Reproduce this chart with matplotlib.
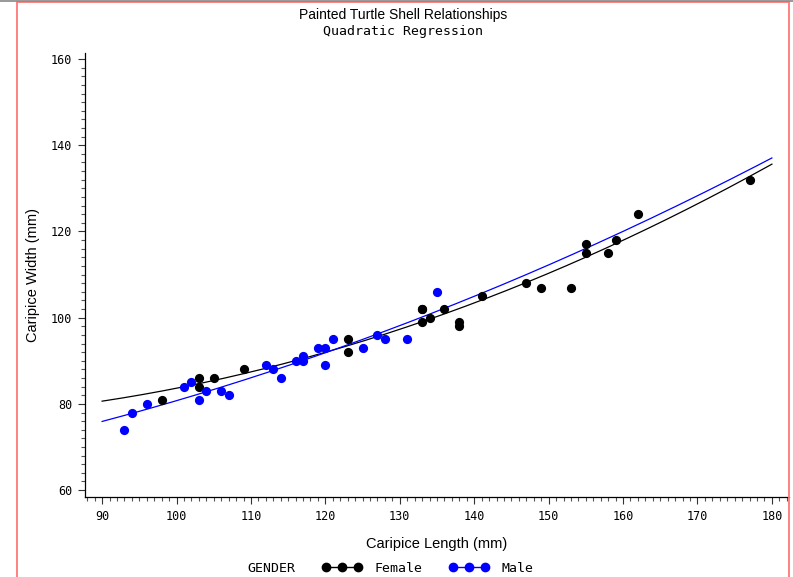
import numpy as np
import matplotlib
matplotlib.use("Agg")
import matplotlib.pyplot as plt
from matplotlib.lines import Line2D
from matplotlib.patches import Rectangle
from matplotlib.ticker import MultipleLocator

female_length = [98, 103, 103, 105, 109, 123, 123, 133, 133, 133, 134, 136,
                 138, 138, 141, 147, 149, 153, 155, 155, 158, 159, 162, 177]
female_width = [81, 84, 86, 86, 88, 92, 95, 99, 102, 102, 100, 102,
                98, 99, 105, 108, 107, 107, 115, 117, 115, 118, 124, 132]
male_length = [93, 94, 96, 101, 102, 103, 104, 106, 107, 112, 113, 114,
               116, 117, 117, 119, 120, 120, 121, 125, 127, 128, 131, 135]
male_width = [74, 78, 80, 84, 85, 81, 83, 83, 82, 89, 88, 86,
              90, 90, 91, 93, 89, 93, 95, 93, 96, 95, 95, 106]

x_ticks = [90, 100, 110, 120, 130, 140, 150, 160, 170, 180]
y_ticks = [60, 80, 100, 120, 140, 160]

mono = "DejaVu Sans Mono"

fig = plt.figure(figsize=(7.93, 5.77), dpi=100)
ax = fig.add_axes([85 / 793, 1 - 497 / 577, (789 - 85) / 793, (497 - 53) / 577])

xs = np.linspace(90, 180, 200)
for lx, wy, col in [(female_length, female_width, "black"),
                    (male_length, male_width, "#0000ff")]:
    coef = np.polyfit(lx, wy, 2)
    ax.plot(xs, np.polyval(coef, xs), color=col, lw=0.9, zorder=2)
    ax.scatter(lx, wy, s=44, color=col, zorder=3, linewidths=0)

ax.set_xlim(87.7, 182.3)
ax.set_ylim(58.4, 161.4)
ax.set_xticks(x_ticks)
ax.set_yticks(y_ticks)
ax.xaxis.set_minor_locator(MultipleLocator(1))
ax.yaxis.set_minor_locator(MultipleLocator(2))
for s in ["top", "right"]:
    ax.spines[s].set_visible(False)
for s in ["left", "bottom"]:
    ax.spines[s].set_linewidth(0.9)
ax.tick_params(which="major", length=5, width=0.8, colors="#333333", labelcolor="black", pad=4)
ax.tick_params(which="minor", length=3, width=0.8, colors="#555555")
for lab in ax.get_xticklabels() + ax.get_yticklabels():
    lab.set_fontfamily(mono)
    lab.set_fontsize(8.5)

ax.set_xlabel("Caripice Length (mm)", fontsize=10.5, fontfamily="Liberation Sans")
ax.set_ylabel("Caripice Width (mm)", fontsize=10.5, fontfamily="Liberation Sans")
ax.xaxis.set_label_coords(0.5, -0.09)
ax.yaxis.set_label_coords(-0.064, 0.5)

fig.text(403 / 793, 1 - 15 / 577, "Painted Turtle Shell Relationships",
         ha="center", va="center", fontsize=10, fontfamily="Liberation Sans")
fig.text(403 / 793, 1 - 32 / 577, "Quadratic Regression",
         ha="center", va="center", fontsize=9.5, fontfamily=mono)

# legend along the bottom
fig.text(247 / 793, 1 - 568 / 577, "GENDER", ha="left", va="center",
         fontsize=9.5, fontfamily=mono)
handles = [Line2D([0], [0], color="black", marker="o", markersize=6, lw=1),
           Line2D([0], [0], color="#0000ff", marker="o", markersize=6, lw=1)]
fig.legend(handles, ["Female", "Male"], loc="center left",
           bbox_to_anchor=(322 / 793, 1 - 568 / 577), ncol=2, numpoints=3,
           frameon=False, handlelength=3, handletextpad=1.0, columnspacing=2.0,
           borderpad=0, borderaxespad=0, prop={"family": mono, "size": 9.5})

# page border
fig.add_artist(Rectangle((17 / 793, -0.02), (789 - 17) / 793, 1.0165,
                         transform=fig.transFigure, fill=False,
                         edgecolor="#ff7878", lw=1.3))
fig.add_artist(Line2D([0, 1], [0.999, 0.999], transform=fig.transFigure,
                      color="#888888", lw=1.2))

fig.savefig("out.png", dpi=100)
